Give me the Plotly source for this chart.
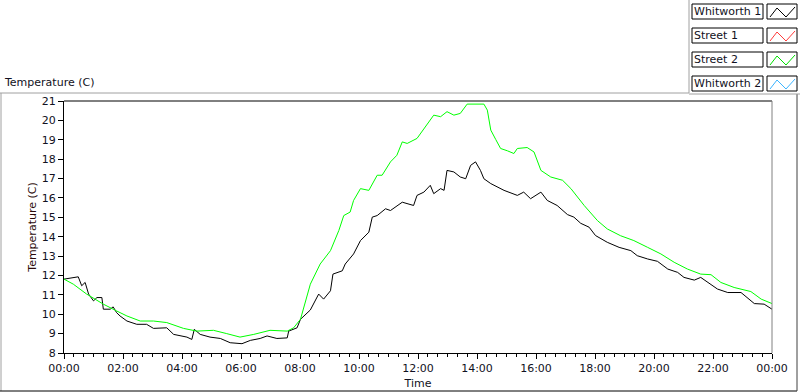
import plotly.graph_objects as go

DAY = "2024-01-01 "
NEXT = "2024-01-02 00:00"

# Whitworth 1 (black)
w1_times = ["00:00","00:26","00:29","00:36","00:43","00:50","01:00","01:07","01:17","01:20",
            "01:34","01:40","01:47","01:54","02:08","02:28","02:48","03:02","03:22","03:29",
            "03:43","04:10","04:20","04:25","04:37","04:57","05:18","05:38","06:02","06:19",
            "06:39","06:53","07:13","07:34","07:37","07:54","08:01","08:21","08:38","08:48",
            "09:02","09:07","09:26","09:32","09:49","10:03","10:20","10:27","10:37","10:54",
            "11:04","11:28","11:51","11:58","12:12","12:25","12:32","12:46","12:53","12:59",
            "13:13","13:26","13:37","13:47","13:57","14:07","14:14","14:28","14:55","15:22",
            "15:35","15:49","16:10","16:23","16:43","17:04","17:17","17:31","17:48","18:01",
            "18:25","18:49","19:13","19:26","19:47","20:07","20:28","20:48","21:01","21:22",
            "21:35","22:09","22:30","22:57","23:24","23:44","24:00"]
w1_vals = [11.81,11.90,11.93,11.47,11.64,11.04,10.69,10.86,10.86,10.26,
           10.26,10.38,10.08,9.91,9.65,9.48,9.48,9.27,9.27,9.30,
           8.96,8.82,8.70,9.22,8.96,8.82,8.75,8.53,8.48,8.65,
           8.75,8.88,8.75,8.78,9.13,9.30,9.74,10.22,11.04,10.78,
           11.21,12.07,12.24,12.59,13.11,13.80,14.23,15.01,15.09,15.44,
           15.35,15.78,15.61,16.13,16.30,16.65,16.22,16.48,16.39,17.42,
           17.34,17.08,16.99,17.68,17.86,17.42,16.99,16.74,16.39,16.13,
           16.30,15.96,16.30,15.87,15.61,15.14,15.01,14.69,14.49,14.06,
           13.71,13.45,13.28,13.02,12.85,12.73,12.33,12.16,11.90,11.76,
           11.90,11.30,11.12,11.12,10.55,10.52,10.26]

# Street 2 (green)
s2_times = ["00:00","00:19","00:46","01:20","01:47","02:08","02:35","03:02","03:29","04:03",
            "04:30","05:04","05:31","05:58","06:26","06:59","07:34","07:47","08:01","08:07",
            "08:21","08:41","09:02","09:19","09:29","09:42","09:49","10:03","10:20","10:37",
            "10:47","11:04","11:17","11:28","11:38","11:58","12:19","12:32","12:46","12:59",
            "13:13","13:26","13:40","14:14","14:21","14:28","14:38","14:48","15:02","15:15",
            "15:22","15:42","15:56","16:10","16:30","16:54","17:11","17:38","18:05","18:25",
            "18:52","19:19","19:47","20:14","20:41","21:08","21:35","21:56","22:16","22:43",
            "23:17","23:38","24:00"]
s2_vals = [11.81,11.55,11.04,10.52,10.17,9.91,9.65,9.65,9.57,9.27,
           9.13,9.17,9.00,8.82,8.96,9.17,9.13,9.30,9.74,10.26,
           11.55,12.59,13.28,14.32,15.09,15.27,15.87,16.48,16.39,17.17,
           17.17,17.86,18.20,18.89,18.81,19.07,19.85,20.27,20.19,20.45,
           20.27,20.36,20.84,20.84,20.53,19.50,19.02,18.55,18.43,18.29,
           18.55,18.60,18.37,17.42,17.08,16.91,16.48,15.61,14.83,14.40,
           14.05,13.80,13.45,13.11,12.68,12.33,12.07,12.04,11.64,11.38,
           11.17,10.78,10.55]

legend_names = ["Whitworth 1", "Street 1", "Street 2", "Whitworth 2"]
legend_colors = ["#000000", "#ff3b3b", "#00e000", "#3cb4ff"]
y_ticks = list(range(8, 22))

def to_dt(t):
    return NEXT if t == "24:00" else DAY + t

FONT = "DejaVu Sans"
TXT = "#111122"

fig = go.Figure()
fig.add_trace(go.Scatter(x=[to_dt(t) for t in w1_times], y=w1_vals, mode="lines",
                         line=dict(color="#000000", width=1), name="Whitworth 1"))
fig.add_trace(go.Scatter(x=[to_dt(t) for t in s2_times], y=s2_vals, mode="lines",
                         line=dict(color="#00ff00", width=1), name="Street 2"))

# pixel -> paper helpers (plot area: x 64..772, y 101..353)
L, R, T, B = 64, 772, 101, 353
def px(x):
    return (x - L) / (R - L)
def py(y):
    return (B - y) / (B - T)

shapes = []
def line(x0, y0, x1, y1, color, w=1):
    shapes.append(dict(type="line", xref="paper", yref="paper", x0=px(x0), y0=py(y0),
                       x1=px(x1), y1=py(y1), line=dict(color=color, width=w)))

# plot area borders
line(L, T, R, T, "#000000")
line(R, T, R, B, "#808080")
# outer frame
line(0, 93, 689, 93, "#a0a0a0")
line(1, 93, 1, 391, "#a0a0a0")
line(0, 391, 797, 391, "#000000")
line(797, 94, 797, 391, "#404040")
line(689, 0, 689, 93, "#a0a0a0")
line(689, 94, 800, 94, "#a0a0a0")

annotations = []
for i, (name, col) in enumerate(zip(legend_names, legend_colors)):
    y0 = 4 + 24 * i
    y1 = y0 + 15
    shapes.append(dict(type="rect", xref="paper", yref="paper", x0=px(692), x1=px(763),
                       y0=py(y1), y1=py(y0), line=dict(color="#000000", width=1),
                       fillcolor="#ffffff"))
    shapes.append(dict(type="rect", xref="paper", yref="paper", x0=px(767), x1=px(797),
                       y0=py(y1), y1=py(y0), line=dict(color="#000000", width=1),
                       fillcolor="#ffffff"))
    pts = [(770, y0 + 13), (777, y0 + 4), (786, y0 + 13), (795, y0 + 3)]
    path = "M " + " L ".join(f"{px(a)},{py(b)}" for a, b in pts)
    shapes.append(dict(type="path", xref="paper", yref="paper", path=path,
                       line=dict(color=col, width=1)))
    annotations.append(dict(text=name, xref="paper", yref="paper", x=px(692), y=py(y0 + 7.5),
                            xanchor="left", yanchor="middle", showarrow=False,
                            font=dict(family=FONT, size=11, color=TXT)))

annotations.append(dict(text="Temperature (C)", xref="paper", yref="paper", x=px(2), y=py(82),
                        xanchor="left", yanchor="middle", showarrow=False,
                        font=dict(family=FONT, size=11, color=TXT)))

fig.update_layout(
    width=800, height=392,
    margin=dict(l=L, r=800 - R, t=T, b=392 - B, pad=0, autoexpand=False),
    paper_bgcolor="#ffffff", plot_bgcolor="#ffffff",
    showlegend=False,
    shapes=shapes, annotations=annotations,
    font=dict(family=FONT, size=11, color=TXT),
    xaxis=dict(type="date", range=[DAY + "00:00", NEXT], dtick=7200000, tickformat="%H:%M",
               automargin=False,
               showgrid=False, zeroline=False, showline=True, linecolor="#000000", linewidth=1,
               ticks="outside", ticklen=5, tickcolor="#000000",
               minor=dict(ticks="outside", ticklen=3, dtick=1200000, tickcolor="#000000", showgrid=False),
               title=dict(text="Time", standoff=5, font=dict(family=FONT, size=11, color=TXT)),
               tickfont=dict(family=FONT, size=11, color=TXT)),
    yaxis=dict(range=[8, 21], tickvals=y_ticks, showgrid=False, zeroline=False,
               automargin=False,
               showline=True, linecolor="#000000", linewidth=1,
               ticks="outside", ticklen=5, tickcolor="#000000",
               title=dict(text="Temperature (C)", standoff=2, font=dict(family=FONT, size=11, color="#2a0a0a")),
               tickfont=dict(family=FONT, size=11, color=TXT)),
)

fig.write_html("out.html", config={"displayModeBar": False},
               post_script="document.body.style.margin='0';document.body.style.overflow='hidden';")
